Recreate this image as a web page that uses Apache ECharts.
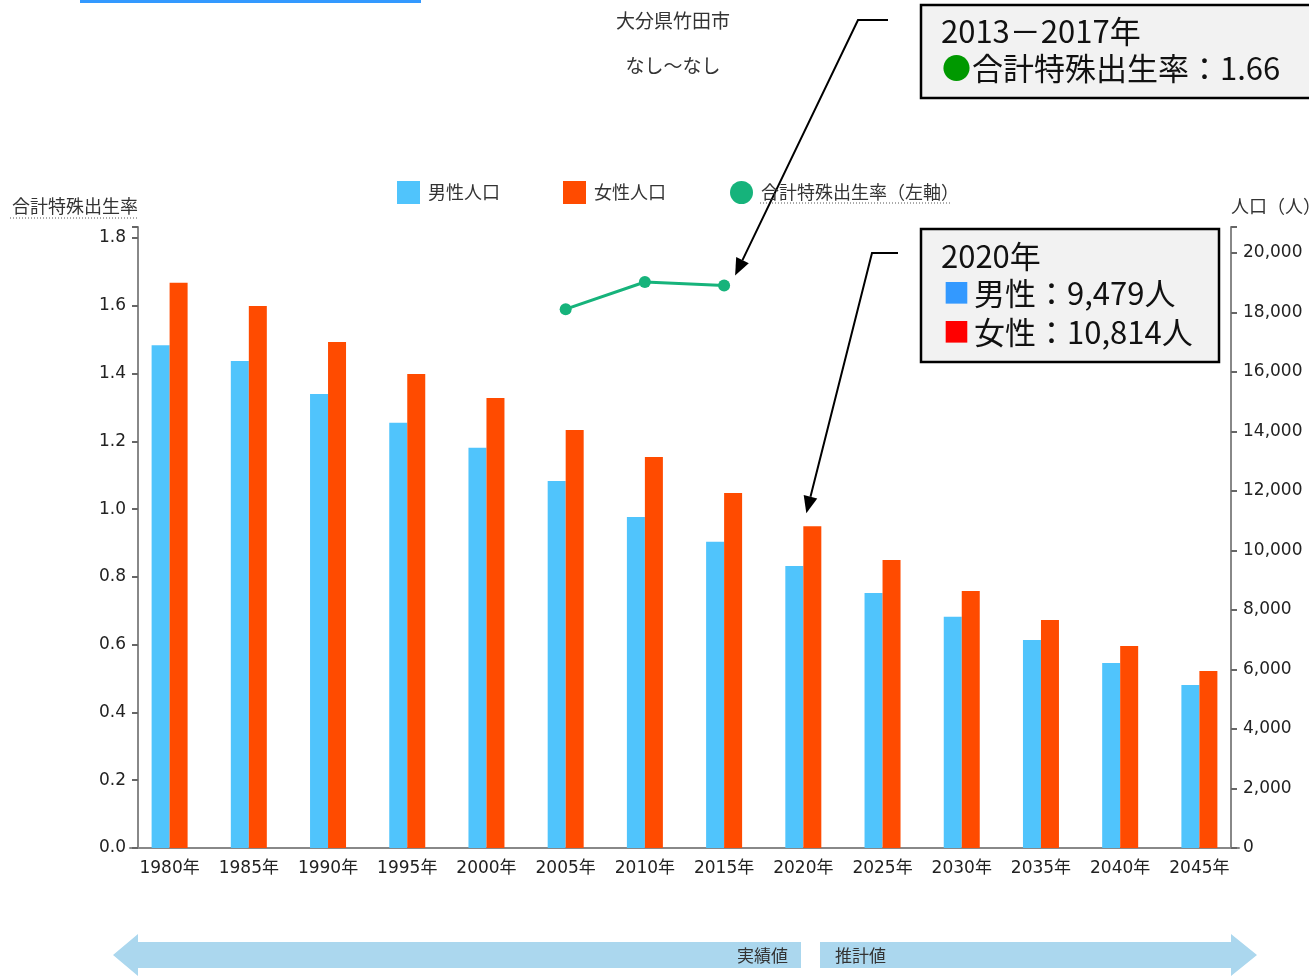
<!DOCTYPE html>
<html lang="ja">
<head>
<meta charset="utf-8">
<script src="https://cdn.jsdelivr.net/npm/echarts@6/dist/echarts.min.js"></script>
<style>html,body{margin:0;padding:0;background:#fff;}</style>
</head>
<body>
<div id="main" style="width:1309px;height:976px;"></div>
<script>
// データ
var years = ['1980年', '1985年', '1990年', '1995年', '2000年', '2005年', '2010年',
             '2015年', '2020年', '2025年', '2030年', '2035年', '2040年', '2045年'];
var maleData = [16900, 16370, 15260, 14290, 13450, 12340, 11130, 10290, 9479, 8570, 7770, 6990, 6220, 5480];
var femaleData = [19000, 18220, 17010, 15930, 15130, 14050, 13140, 11930, 10814, 9680, 8640, 7660, 6790, 5950];
var tfrData = [null, null, null, null, null, 1.59, 1.67, 1.66, null, null, null, null, null, null];

var numFont = 'DejaVu Sans, Noto Sans CJK JP';
var jpFont = 'Noto Sans CJK JP';

var chart = echarts.init(document.getElementById('main'));

function tickOnly(step, digits) {
    return function (v) {
        var r = v / step;
        if (Math.abs(r - Math.round(r)) > 1e-6) return '';
        return digits != null ? v.toFixed(digits) : v.toLocaleString('en-US');
    };
}

function legendAt(left, name, icon) {
    return {
        left: left, top: 181, padding: 0,
        itemWidth: 23, itemHeight: 23,
        textStyle: { fontSize: 18, color: '#333', fontFamily: jpFont, padding: [0, 0, 0, 3] },
        data: [{ name: name, icon: icon }]
    };
}

var option = {
    animation: false,
    title: [
        { text: '大分県竹田市', left: 668, textAlign: 'center', top: 6,
          textStyle: { fontSize: 19, fontWeight: 'normal', color: '#333', fontFamily: jpFont } },
        { text: 'なし〜なし', left: 668, textAlign: 'center', top: 51,
          textStyle: { fontSize: 19, fontWeight: 'normal', color: '#333', fontFamily: jpFont } }
    ],
    legend: [
        legendAt(397, '男性人口', 'rect'),
        legendAt(563, '女性人口', 'rect'),
        legendAt(730, '合計特殊出生率（左軸）', 'circle')
    ],
    grid: { left: 130, right: 70, top: 227, bottom: 128, outerBoundsMode: 'none', containLabel: false },
    xAxis: {
        type: 'category',
        data: years,
        axisLine: { lineStyle: { color: '#888', width: 2 } },
        axisTick: { alignWithLabel: true, length: 7, lineStyle: { color: '#555', width: 2 } },
        axisLabel: { color: '#222', fontSize: 17, fontFamily: numFont, margin: 12, interval: 0 }
    },
    yAxis: [
        {
            type: 'value', min: 0, max: 1.8324, interval: 0.2, offset: -8,
            name: '合計特殊出生率', nameLocation: 'end', nameGap: 12,
            nameTextStyle: { align: 'right', fontSize: 18, color: '#333', fontFamily: jpFont },
            axisLine: { show: true, lineStyle: { color: '#888', width: 2 } },
            axisTick: { show: true, length: 6, lineStyle: { color: '#666', width: 2 } },
            axisLabel: { color: '#222', fontSize: 17, fontFamily: numFont, margin: 12,
                         formatter: tickOnly(0.2, 1) },
            splitLine: { show: false }
        },
        {
            type: 'value', min: 0, max: 20874, interval: 2000, offset: -8,
            name: '人口（人）', nameLocation: 'end', nameGap: 12,
            nameTextStyle: { align: 'left', fontSize: 18, color: '#333', fontFamily: jpFont },
            axisLine: { show: true, lineStyle: { color: '#888', width: 2 } },
            axisTick: { show: true, length: 6, lineStyle: { color: '#666', width: 2 } },
            axisLabel: { color: '#222', fontSize: 17, fontFamily: numFont, margin: 12,
                         formatter: tickOnly(2000) },
            splitLine: { show: false }
        }
    ],
    series: [
        { name: '男性人口', type: 'bar', yAxisIndex: 1, data: maleData,
          barWidth: 18, barGap: '0%', itemStyle: { color: '#50C4FC' } },
        { name: '女性人口', type: 'bar', yAxisIndex: 1, data: femaleData,
          barWidth: 18, itemStyle: { color: '#FF4B00' } },
        { name: '合計特殊出生率（左軸）', type: 'line', yAxisIndex: 0, data: tfrData,
          symbol: 'circle', symbolSize: 12, itemStyle: { color: '#16B37B' },
          lineStyle: { width: 3, color: '#16B37B' } }
    ]
};
chart.setOption(option);

// 吹き出しの矢印（先端はデータ点から求める）
function arrow(pts, tip) {
    var last = pts[pts.length - 1];
    var dx = tip[0] - last[0], dy = tip[1] - last[1];
    var len = Math.sqrt(dx * dx + dy * dy);
    var ux = dx / len, uy = dy / len;
    var hl = 17, hw = 7;
    var bx = tip[0] - ux * hl, by = tip[1] - uy * hl;
    return [
        { type: 'polyline', shape: { points: pts.concat([[bx, by]]) },
          style: { stroke: '#000', lineWidth: 2, fill: null } },
        { type: 'polygon', shape: { points: [tip, [bx - uy * hw, by + ux * hw], [bx + uy * hw, by - ux * hw]] },
          style: { fill: '#000' } }
    ];
}

var p2015 = chart.convertToPixel({ xAxisIndex: 0, yAxisIndex: 0 }, ['2015年', tfrData[7]]);
var p2020 = chart.convertToPixel({ xAxisIndex: 0, yAxisIndex: 1 }, ['2020年', femaleData[8]]);
var tip1 = [p2015[0] + 11, p2015[1] - 10];
var tip2 = [p2020[0] + 3, p2020[1] - 13];

var boxText = { fill: '#111', fontSize: 31, fontFamily: jpFont, textVerticalAlign: 'middle' };
function txt(x, y, s, extra) {
    var st = Object.assign({}, boxText, { x: x, y: y, text: s }, extra || {});
    return { type: 'text', style: st, z: 20 };
}

var graphics = [
    { type: 'rect', shape: { x: 80, y: 0, width: 341, height: 3 }, style: { fill: '#3399FF' } },
    // 点線の下線
    { type: 'line', shape: { x1: 10, y1: 218, x2: 139, y2: 218 }, style: { stroke: '#555', lineWidth: 1, lineDash: [1, 2] } },
    { type: 'line', shape: { x1: 760, y1: 203, x2: 951, y2: 203 }, style: { stroke: '#555', lineWidth: 1, lineDash: [1, 2] } },
    // 出生率ボックス
    { type: 'rect', shape: { x: 921, y: 5, width: 400, height: 93 },
      style: { fill: '#F2F2F2', stroke: '#000', lineWidth: 2.5 }, z: 19 },
    txt(941, 31, '2013－2017年'),
    txt(942, 68, '●', { fill: '#009900', fontSize: 29 }),
    txt(972, 68, '合計特殊出生率：1.66'),
    // 人口ボックス
    { type: 'rect', shape: { x: 921, y: 229, width: 298, height: 133 },
      style: { fill: '#F2F2F2', stroke: '#000', lineWidth: 2.5 }, z: 19 },
    txt(941, 256, '2020年'),
    txt(943, 293, '■', { fill: '#3399FF', fontSize: 27 }),
    txt(974, 293, '男性：9,479人'),
    txt(943, 332, '■', { fill: '#FF0000', fontSize: 27 }),
    txt(974, 332, '女性：10,814人'),
    // 実績値・推計値の矢印
    { type: 'polygon', shape: { points: [[113, 955], [138, 934], [138, 942], [801, 942], [801, 968], [138, 968], [138, 976]] },
      style: { fill: '#ABD7EE' } },
    { type: 'polygon', shape: { points: [[820, 942], [1231, 942], [1231, 934], [1257, 955], [1231, 976], [1231, 968], [820, 968]] },
      style: { fill: '#ABD7EE' } },
    { type: 'text', style: { x: 788, y: 956, text: '実績値', textAlign: 'right', textVerticalAlign: 'middle',
      fontSize: 17, fill: '#333', fontFamily: jpFont } },
    { type: 'text', style: { x: 835, y: 956, text: '推計値', textAlign: 'left', textVerticalAlign: 'middle',
      fontSize: 17, fill: '#333', fontFamily: jpFont } }
];
graphics = graphics.concat(arrow([[888, 20], [858, 20]], tip1));
graphics = graphics.concat(arrow([[898, 253], [872, 253]], tip2));

chart.setOption({ graphic: graphics });
</script>
</body>
</html>
